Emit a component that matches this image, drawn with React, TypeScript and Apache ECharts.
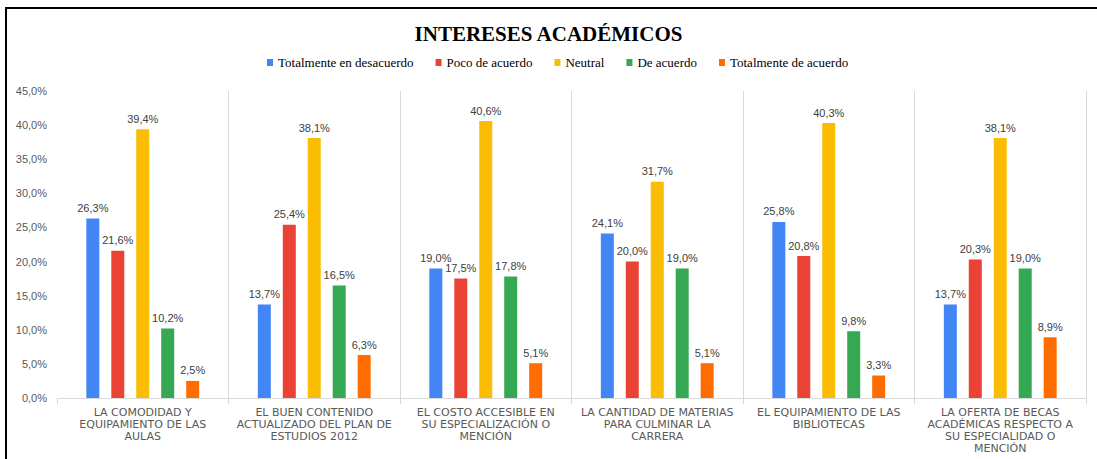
import React, { useEffect, useRef } from "react";
import * as echarts from "echarts";

const categories = [
  "LA COMODIDAD Y\nEQUIPAMIENTO DE LAS\nAULAS",
  "EL BUEN CONTENIDO\nACTUALIZADO DEL PLAN DE\nESTUDIOS 2012",
  "EL COSTO ACCESIBLE EN\nSU ESPECIALIZACIÓN O\nMENCIÓN",
  "LA CANTIDAD DE MATERIAS\nPARA CULMINAR LA\nCARRERA",
  "EL EQUIPAMIENTO DE LAS\nBIBLIOTECAS",
  "LA OFERTA DE BECAS\nACADÉMICAS RESPECTO A\nSU ESPECIALIDAD O\nMENCIÓN",
];

const seriesNames = [
  "Totalmente en desacuerdo",
  "Poco de acuerdo",
  "Neutral",
  "De acuerdo",
  "Totalmente de acuerdo",
];

const totalmenteDesacuerdo = [26.3, 13.7, 19.0, 24.1, 25.8, 13.7];
const pocoAcuerdo = [21.6, 25.4, 17.5, 20.0, 20.8, 20.3];
const neutral = [39.4, 38.1, 40.6, 31.7, 40.3, 38.1];
const deAcuerdo = [10.2, 16.5, 17.8, 19.0, 9.8, 19.0];
const totalmenteAcuerdo = [2.5, 6.3, 5.1, 5.1, 3.3, 8.9];

const seriesValues = [
  totalmenteDesacuerdo,
  pocoAcuerdo,
  neutral,
  deAcuerdo,
  totalmenteAcuerdo,
];

const colors = ["#4285F4", "#EA4335", "#FBBC04", "#34A853", "#FF6D01"];

const fmt = (v: number) => v.toFixed(1).replace(".", ",") + "%";

export default function App() {
  const ref = useRef<HTMLDivElement>(null);
  useEffect(() => {
    document.body.style.margin = "0";
    if (!ref.current) return;
    const chart = echarts.init(ref.current, null, { renderer: "svg" });
    chart.setOption({
      animation: false,
      backgroundColor: "#ffffff",
      title: {
        text: "INTERESES ACADÉMICOS",
        left: "center",
        top: 18,
        padding: [5, 0, 5, 12],
        textStyle: {
          fontFamily: "Liberation Serif",
          fontWeight: "bold",
          fontSize: 21,
          color: "#000000",
        },
      },
      legend: {
        data: seriesNames,
        left: 262,
        top: 51,
        padding: 5,
        itemWidth: 6,
        itemHeight: 7,
        itemGap: 22,
        icon: "rect",
        textStyle: {
          fontFamily: "Liberation Serif",
          fontSize: 13,
          color: "#000000",
        },
      },
      grid: { left: 57, right: 11, top: 91, bottom: 61 },
      xAxis: {
        type: "category",
        data: categories,
        axisLine: { show: true, lineStyle: { color: "#d9d9d9", width: 1 } },
        axisTick: { show: true, length: 6, lineStyle: { color: "#d9d9d9" } },
        splitLine: {
          show: true,
          interval: (i: number) => i !== 0,
          lineStyle: { color: "#d9d9d9", width: 1 },
        },
        axisLabel: {
          interval: 0,
          margin: 8,
          fontFamily: "DejaVu Sans",
          fontSize: 11,
          lineHeight: 12,
          color: "#595959",
        },
      },
      yAxis: {
        type: "value",
        min: 0,
        max: 45,
        interval: 5,
        splitLine: { show: false },
        axisLine: { show: false },
        axisTick: { show: false },
        axisLabel: {
          margin: 10,
          fontFamily: "Liberation Sans Narrow, Liberation Sans",
          fontSize: 11,
          color: "#595959",
          formatter: (v: number) => fmt(v),
        },
      },
      series: seriesNames.map((name, i) => ({
        name,
        type: "bar",
        data: seriesValues[i],
        barWidth: 13,
        barGap: "92%",
        itemStyle: { color: colors[i] },
        label: {
          show: true,
          position: "top",
          distance: 5,
          fontFamily: "Liberation Sans Narrow, Liberation Sans",
          fontSize: 11,
          color: "#404040",
          formatter: (p: any) => fmt(p.value),
        },
      })),
      graphic: [
        {
          type: "rect",
          shape: { x: 6, y: 8, width: 2000, height: 2000 },
          style: { fill: "none", stroke: "#000000", lineWidth: 2 },
          silent: true,
        },
      ],
    });
    return () => chart.dispose();
  }, []);
  return <div ref={ref} style={{ width: 1097, height: 459 }} />;
}
